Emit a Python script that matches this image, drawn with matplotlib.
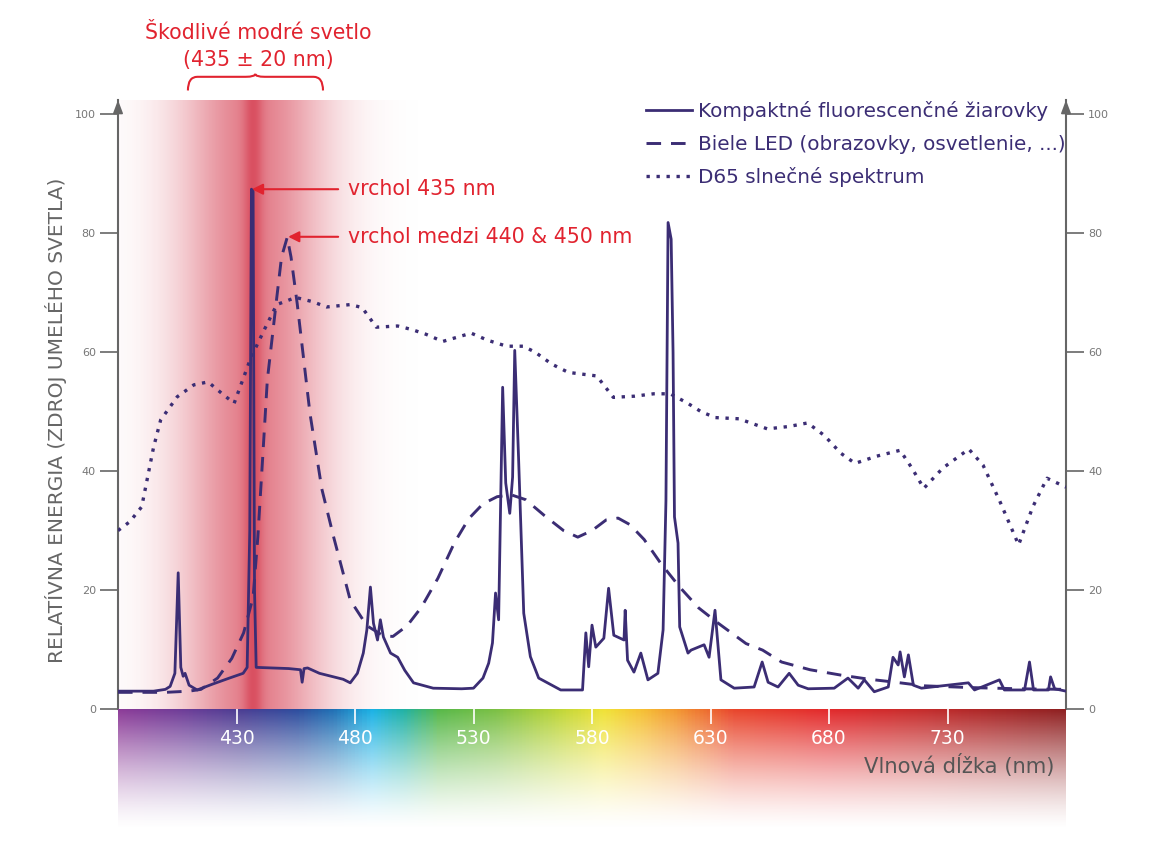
import numpy as np
import matplotlib.pyplot as plt
from matplotlib.path import Path
from matplotlib.patches import PathPatch
from matplotlib.colors import LinearSegmentedColormap

# --- data ---
fl_nm = [380, 395, 400, 402, 404, 405.4, 406.5, 407.5, 408.3, 410, 413.4, 420, 427, 432.8,
         434.5, 435.6, 436.3, 437.0, 437.6, 438.3, 445, 452, 457, 457.7, 458.5, 460, 465,
         471, 475, 478, 481, 483.5, 485, 486.5, 487.8, 489.5, 490.7, 492, 495, 498, 501,
         504.7, 513, 525, 530, 534, 536.4, 538, 539.3, 540.6, 542.3, 543.6, 545.3, 546.5,
         547.4, 549, 551.2, 554, 557.5, 566.8, 576, 577.4, 578.6, 580, 581.6, 585, 587,
         589.2, 593.5, 594, 595, 597.7, 600.6, 603.6, 607.8, 610, 611.2, 612.1, 613.4,
         614.2, 614.8, 616.3, 617, 620.5, 621.8, 627.3, 629.4, 631.9, 634.4, 640, 648.4,
         651.8, 654.3, 658.5, 663.2, 667, 671.2, 682.2, 688, 692.3, 694.9, 699.1, 705, 707,
         709.2, 710, 711.8, 713.5, 715.6, 719, 738.8, 741.4, 751.9, 754, 762.5, 764.6,
         766.3, 772.6, 773.5, 775.2, 780]
fl_val = [3.0, 3.0, 3.3, 3.8, 6.0, 22.9, 7.0, 5.5, 6.0, 4.0, 3.2, 4.2, 5.2, 6.0,
          7.0, 30, 87.4, 87.0, 20, 7.0, 6.9, 6.8, 6.6, 4.5, 6.8, 6.9, 6.0,
          5.4, 5.0, 4.4, 6.0, 9.4, 13.3, 20.5, 14.4, 11.6, 15.0, 12.1, 9.4, 8.7, 6.5,
          4.4, 3.5, 3.4, 3.5, 5.2, 7.7, 11.1, 19.5, 15.0, 54.1, 38, 32.9, 39,
          60.3, 42.4, 16.1, 8.8, 5.2, 3.2, 3.2, 12.8, 7.1, 14.1, 10.4, 11.9, 20.3,
          12.4, 11.6, 16.6, 8.2, 6.2, 9.4, 4.9, 6.0, 13.3, 35, 81.8, 79.0,
          60, 32.3, 27.9, 13.8, 9.4, 9.9, 10.8, 8.7, 16.6, 4.9, 3.5, 3.7,
          7.9, 4.5, 3.7, 6.0, 4.0, 3.4, 3.5, 5.2, 3.5, 4.9, 2.9, 3.7, 8.7,
          7.4, 9.6, 5.4, 9.1, 4.0, 3.5, 4.4, 3.2, 4.9, 3.2, 3.2, 7.9,
          3.2, 3.2, 5.4, 3.4, 3.0]

led_nm = [380, 390, 400, 410, 415, 422, 428, 433, 437, 439, 441, 443, 447, 449, 451.4, 453,
          455.6, 461, 466, 471, 478, 485, 492, 496, 502, 508, 515, 522, 528, 534, 540, 546,
          552, 560, 568, 574, 580, 586, 591, 596, 602, 609, 617, 625, 633, 645, 652, 660,
          672, 685, 697, 708, 720, 740, 760, 780]
led_val = [2.8, 2.8, 2.8, 3.0, 3.3, 5.2, 8.5, 12.8, 18.8, 28.9, 42, 55.3, 69.2, 76, 79.3, 76,
           68.2, 49.7, 37, 28.9, 18.3, 14, 12.3, 12.2, 14, 17.1, 22, 28, 32, 34.5, 35.7, 36,
           35.2, 32.5, 30, 28.9, 30, 31.8, 32.1, 31, 28.5, 24.5, 20.5, 17, 14.5, 11, 9.9, 7.9,
           6.6, 5.7, 5.0, 4.5, 3.9, 3.6, 3.4, 3.3]

d65_nm = [380, 385, 390, 395, 398, 405, 412, 418, 424, 429, 436, 442, 447, 455, 462, 468,
          478, 483, 489, 498, 504, 510, 517, 523, 529, 536, 544, 551, 556, 563, 570, 582,
          589, 598, 606, 613, 620, 626, 632, 642, 654, 663, 671, 678, 685, 691, 700, 710,
          715, 720, 728, 739, 745, 752, 760, 766, 772, 780]
d65_val = [30, 31.5, 34, 44, 48.6, 52.5, 54.5, 55, 53, 51.4, 59, 64, 68, 69.2, 68.5, 67.6,
           68, 67.5, 64.2, 64.4, 63.8, 63, 61.8, 62.5, 63.2, 62, 61, 61, 60, 58, 56.6, 56,
           52.4, 52.6, 53, 53, 51.5, 50, 49, 48.8, 47.1, 47.5, 48.1, 46, 43, 41.3, 42.5, 43.5,
           40.5, 37.1, 40.5, 43.7, 41, 35, 27.6, 34, 38.8, 37.3]

y_ticks = [0, 20, 40, 60, 80, 100]
x_ticks = [430, 480, 530, 580, 630, 680, 730]

peak_fl = (436.5, 87.4)
peak_led = (451.8, 79.4)

# spectrum colour stops (nm, colour)
sp_nm = [380, 405, 430, 455, 470, 487, 500, 515, 540, 565, 585, 600, 615, 640, 680, 720, 780]
sp_col = ['#8b3a97', '#6f3c98', '#4b3b92', '#2c4c9e', '#1f6fb4', '#19b3e6', '#1fb1a5',
          '#56b848', '#7cc043', '#bcd537', '#f0e336', '#f6c333', '#f39a30', '#e9452b',
          '#e3282a', '#c52b2b', '#8e1f20']

LINE = '#3b2d74'
RED = '#e1232f'
GRAY = '#666666'

plt.rcParams['font.family'] = ['DejaVu Sans']

fig = plt.figure(figsize=(11.6, 8.5), dpi=100)
ax = fig.add_axes([118 / 1160, 141 / 850, 948 / 1160, 609 / 850])
ax_sp = fig.add_axes([118 / 1160, 20 / 850, 948 / 1160, 121 / 850])

# red "harmful blue light" band, soft profile
bx = np.linspace(380, 520, 700)
alpha = 0.6 * np.exp(-((bx - 437) / 31) ** 2) + 0.22 * np.exp(-((bx - 437) / 4) ** 2)
band = np.zeros((1, len(bx), 4))
band[..., :3] = (0.82, 0.16, 0.24)
band[0, :, 3] = alpha
ax.imshow(band, extent=[380, 520, 0, 102.4], aspect='auto', zorder=0, interpolation='bilinear')

l_d65, = ax.plot(d65_nm, d65_val, color=LINE, lw=2.4, linestyle=(0, (1, 2.0)),
                 label='D65 slnečné spektrum', zorder=3)
l_led, = ax.plot(led_nm, led_val, color=LINE, lw=2.1, linestyle=(0, (5, 3.4)),
                 label='Biele LED (obrazovky, osvetlenie, ...)', zorder=3)
l_fl, = ax.plot(fl_nm, fl_val, color=LINE, lw=2.0, label='Kompaktné fluorescenčné žiarovky',
                zorder=4)

ax.set_xlim(380, 780)
ax.set_ylim(0, 102.4)
ax.set_xticks([])
ax.set_yticks(y_ticks)
ax.tick_params(axis='y', direction='out', length=13, width=1.2, color=GRAY, labelcolor='#777777',
               labelsize=8, left=True, right=True, labelleft=True, labelright=True, pad=3)
for s in ('top', 'bottom'):
    ax.spines[s].set_visible(False)
for s in ('left', 'right'):
    ax.spines[s].set_color(GRAY)
    ax.spines[s].set_linewidth(1.5)
for xa in (0, 1):
    ax.annotate('', xy=(xa, 1.0), xytext=(xa, 0.97), xycoords='axes fraction',
                arrowprops=dict(arrowstyle='-|>,head_length=0.8,head_width=0.3', color=GRAY,
                                lw=1.2, shrinkA=0, shrinkB=0), annotation_clip=False)

fig.text(56 / 1160, 0.506, 'RELATÍVNA ENERGIA (ZDROJ UMELÉHO SVETLA)', rotation=90,
         ha='center', va='center', fontsize=14.5, color=GRAY)

# peak annotations
ax.annotate('vrchol 435 nm', xy=peak_fl, xytext=(477, peak_fl[1]), color=RED, fontsize=14.8,
            va='center', arrowprops=dict(arrowstyle='-|>', color=RED, lw=1.5, shrinkA=5,
                                         shrinkB=0, mutation_scale=16))
ax.annotate('vrchol medzi 440 & 450 nm', xy=peak_led, xytext=(477, peak_led[1]), color=RED,
            fontsize=14.8, va='center',
            arrowprops=dict(arrowstyle='-|>', color=RED, lw=1.5, shrinkA=5, shrinkB=0,
                            mutation_scale=16))

# curly brace above the band
bl, br, bc = 409.5, 466.5, 437.9
y0, y1, y2 = 104.0, 106.3, 106.8
verts = [(bl, y0), (bl, y1), (bl + 4, y1), (bc - 4, y1), (bc, y1), (bc, y2),
         (bc, y1), (bc + 4, y1), (br - 4, y1), (br, y1), (br, y0)]
codes = [Path.MOVETO, Path.CURVE3, Path.CURVE3, Path.LINETO, Path.CURVE3, Path.CURVE3,
         Path.CURVE3, Path.CURVE3, Path.LINETO, Path.CURVE3, Path.CURVE3]
ax.add_patch(PathPatch(Path(verts, codes), fill=False, edgecolor=RED, lw=1.5, clip_on=False))

fig.text(258 / 1160, 1 - 33 / 850, 'Škodlivé modré svetlo', color=RED, fontsize=14.8,
         ha='center', va='center')
fig.text(258 / 1160, 1 - 60 / 850, '(435 ± 20 nm)', color=RED, fontsize=14.8,
         ha='center', va='center')

leg = ax.legend(handles=[l_fl, l_led, l_d65], loc='upper right',
                bbox_to_anchor=(1066 / 1160, 1 - 101 / 850), bbox_transform=fig.transFigure,
                frameon=False, fontsize=14.4, handlelength=2.3, handletextpad=0.3,
                labelspacing=0.68, borderpad=0, borderaxespad=0)
for t in leg.get_texts():
    t.set_color(LINE)

# rainbow wavelength bar
pos = [(n - sp_nm[0]) / (sp_nm[-1] - sp_nm[0]) for n in sp_nm]
cmap = LinearSegmentedColormap.from_list('spec', list(zip(pos, sp_col)))
cols = cmap(np.linspace(0, 1, 800))
t = np.linspace(0, 1, 200)[:, None]
img = np.zeros((200, 800, 4))
img[..., :3] = cols[None, :, :3]
img[..., 3] = (1 - t) ** 1.4
ax_sp.imshow(img, extent=[380, 780, 0, 1], aspect='auto', interpolation='bilinear')
ax_sp.set_xlim(380, 780)
ax_sp.set_ylim(0, 1)
ax_sp.set_xticks(x_ticks)
ax_sp.set_yticks([])
ax_sp.tick_params(axis='x', top=True, bottom=False, direction='in', length=11, width=1.2,
                  color='white', labelbottom=False, labeltop=False)
for s in ax_sp.spines.values():
    s.set_visible(False)
for tk in x_ticks:
    ax_sp.text(tk, 0.76, str(tk), color='white', ha='center', va='center', fontsize=13.5)
ax_sp.text(0.988, 0.537, 'Vlnová dĺžka (nm)', transform=ax_sp.transAxes, ha='right',
           va='center', fontsize=15.2, color='#555555')

fig.savefig('out.png', dpi=100)
